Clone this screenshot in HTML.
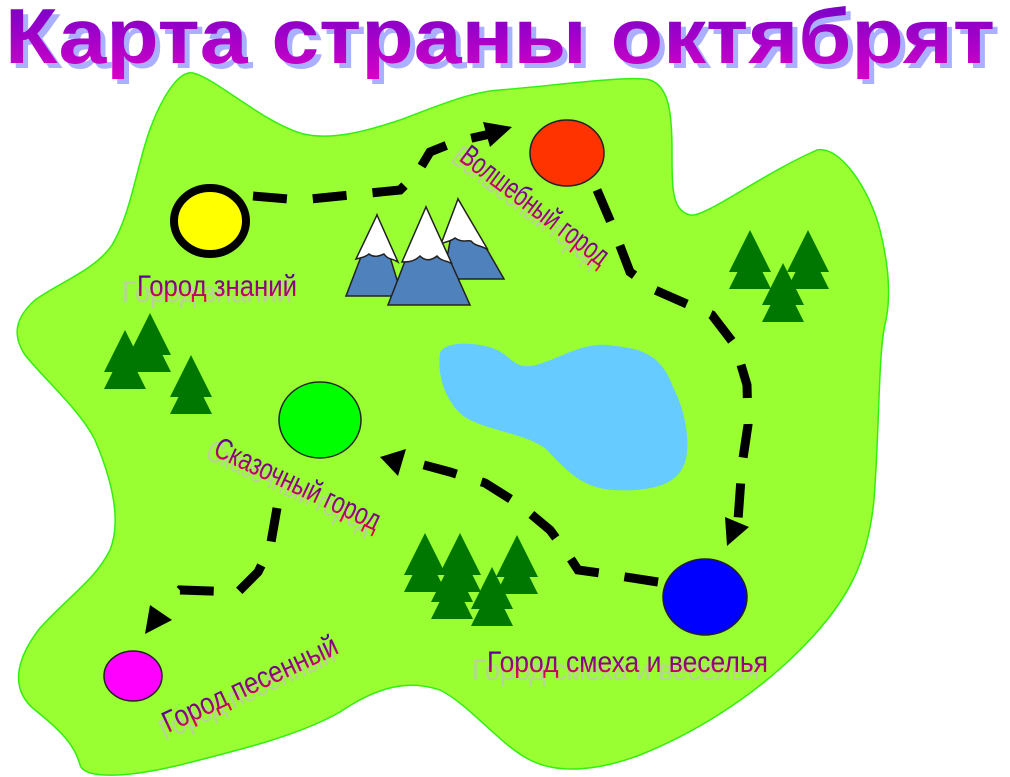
<!DOCTYPE html>
<html><head><meta charset="utf-8"><style>
html,body{margin:0;padding:0;background:#fff;width:1010px;height:777px;overflow:hidden}
svg{display:block}
</style></head><body>
<svg width="1010" height="777" viewBox="0 0 1010 777" xmlns="http://www.w3.org/2000/svg">
<defs>
<linearGradient id="tg" x1="0" y1="0" x2="0" y2="1"><stop offset="0" stop-color="#6a00c8"/><stop offset="1" stop-color="#d800c8"/></linearGradient>
<linearGradient id="lg" x1="0" y1="0" x2="0" y2="1"><stop offset="0" stop-color="#3a00a0"/><stop offset="0.6" stop-color="#a0007a"/><stop offset="1" stop-color="#ff0030"/></linearGradient>
<g id="tree"><polygon points="0,0 -21,42 21,42" fill="#007700"/><polygon points="0,17 -21,59 21,59" fill="#007700"/></g>
</defs>
<!-- title -->
<text x="10" y="68" font-family="Liberation Sans, sans-serif" font-weight="bold" font-size="78" fill="#aab0ff" textLength="990" lengthAdjust="spacingAndGlyphs">Карта страны октябрят</text>
<text x="5" y="63" font-family="Liberation Sans, sans-serif" font-weight="bold" font-size="78" fill="url(#tg)" textLength="990" lengthAdjust="spacingAndGlyphs">Карта страны октябрят</text>
<!-- island -->
<path d="M193,73 C215,78 260,120 300,133 C330,142 370,130 400,120 C440,105 470,92 500,90 C560,85 630,75 650,80 C668,86 672,110 672,150 C672,190 672,210 690,215 C705,218 760,175 817,150 C840,145 870,190 880,230 C890,270 890,300 886,320 C878,350 880,420 874,500 C868,560 850,600 800,650 C750,700 690,735 640,755 C600,770 560,775 530,760 C500,745 470,705 440,690 C410,680 380,685 340,712 C300,735 240,750 180,765 C130,777 85,780 80,765 C75,745 60,730 35,710 C10,690 15,660 40,628 C70,595 95,580 110,550 C122,520 112,480 95,440 C80,410 45,380 25,355 C12,335 15,318 35,300 C60,282 95,270 112,245 C130,215 135,175 148,135 C160,100 178,70 193,73 Z" fill="#99ff33" stroke="#33ee11" stroke-width="1.5"/>
<!-- lake -->
<path d="M440,353 C445,340 480,342 497,350 C510,356 515,368 530,366 C550,364 580,342 607,345 C635,348 660,350 673,387 C690,420 690,455 683,467 C675,485 650,492 613,490 C585,488 570,475 547,450 C530,435 495,432 470,420 C450,410 436,380 440,353 Z" fill="#66ccff"/>
<!-- mountains -->
<g stroke="#222" stroke-width="1.5">
<polygon points="458,199 504,279 443,279" fill="#4f81bd"/>
<path d="M458,199 L488,250 C482,245 476,247 471,241 C466,240 462,243 455,238 C450,242 446,241 441,244 Z" fill="#fff"/>
<polygon points="377,215 402,296 346,296" fill="#4f81bd"/>
<path d="M377,215 L398,262 C392,258 388,260 384,254 C379,256 374,258 369,254 C364,258 359,258 356,259 Z" fill="#fff"/>
<polygon points="426,207 470,305 388,305" fill="#4f81bd"/>
<path d="M426,207 L452,264 C447,260 442,262 437,256 C432,260 426,262 420,256 C414,262 407,262 402,262 Z" fill="#fff"/>
</g>
<!-- trees -->
<use href="#tree" x="750" y="230"/><use href="#tree" x="808" y="230"/><use href="#tree" x="783" y="263"/>
<use href="#tree" x="150" y="313"/><use href="#tree" x="125" y="330"/><use href="#tree" x="191" y="355"/>
<use href="#tree" x="425" y="533"/><use href="#tree" x="460" y="533"/><use href="#tree" x="517" y="535"/><use href="#tree" x="452" y="560"/><use href="#tree" x="492" y="567"/>
<!-- paths -->
<g fill="none" stroke="#000" stroke-width="9" stroke-dasharray="34,26">
<polyline points="253,196 300,200 400,190 418,172 430,152 455,142 490,134"/>
<polyline points="597,190 612,225 630,272 655,290 712,315 735,345 747,385 748,425 742,465 738,520"/>
<polyline points="658,582 600,573 578,570 565,550 550,530 520,505 485,483 450,472 398,458"/>
<polyline points="277,508 270,548 258,572 238,592 180,590 165,605"/>
</g>
<polygon points="483,122 512,127 490,147" fill="#000"/>
<polygon points="725,517 749,527 727,546" fill="#000"/>
<polygon points="380,457 406,449 398,476" fill="#000"/>
<polygon points="150,605 172,620 145,634" fill="#000"/>
<!-- towns -->
<ellipse cx="210" cy="221" rx="36" ry="33" fill="#ffff00" stroke="#000" stroke-width="8"/>
<ellipse cx="567" cy="153" rx="37" ry="33" fill="#ff3300" stroke="#222" stroke-width="1.5"/>
<ellipse cx="705" cy="597" rx="42" ry="38" fill="#0000ff" stroke="#222" stroke-width="1.5"/>
<ellipse cx="320" cy="420" rx="41" ry="38" fill="#00ff00" stroke="#222" stroke-width="1.5"/>
<ellipse cx="133" cy="676" rx="29" ry="25" fill="#ff00ff" stroke="#222" stroke-width="1.5"/>
<!-- labels -->
<g font-family="Liberation Sans, sans-serif" font-size="30">
<text x="122" y="302" fill="#c0c8b0" textLength="170" lengthAdjust="spacingAndGlyphs" opacity="0.8">Город знаний</text>
<text x="137" y="296" fill="url(#lg)" textLength="160" lengthAdjust="spacingAndGlyphs">Город знаний</text>
<g transform="translate(458,160) rotate(37)"><text x="-6" y="6" fill="#c0c8b0" textLength="178" lengthAdjust="spacingAndGlyphs" opacity="0.8">Волшебный город</text><text x="0" y="0" fill="url(#lg)" textLength="178" lengthAdjust="spacingAndGlyphs">Волшебный город</text></g>
<g transform="translate(212,455) rotate(25)"><text x="-6" y="6" fill="#c0c8b0" textLength="180" lengthAdjust="spacingAndGlyphs" opacity="0.8">Сказочный город</text><text x="0" y="0" fill="url(#lg)" textLength="180" lengthAdjust="spacingAndGlyphs">Сказочный город</text></g>
<text x="472" y="680" fill="#c0c8b0" textLength="288" lengthAdjust="spacingAndGlyphs" opacity="0.8">Город смеха и веселья</text>
<text x="487" y="672" fill="url(#lg)" textLength="281" lengthAdjust="spacingAndGlyphs">Город смеха и веселья</text>
<g transform="translate(168,733) rotate(-25)"><text x="-6" y="6" fill="#c0c8b0" textLength="190" lengthAdjust="spacingAndGlyphs" opacity="0.8">Город песенный</text><text x="0" y="0" fill="url(#lg)" textLength="190" lengthAdjust="spacingAndGlyphs">Город песенный</text></g>
</g>
</svg>
</body></html>
